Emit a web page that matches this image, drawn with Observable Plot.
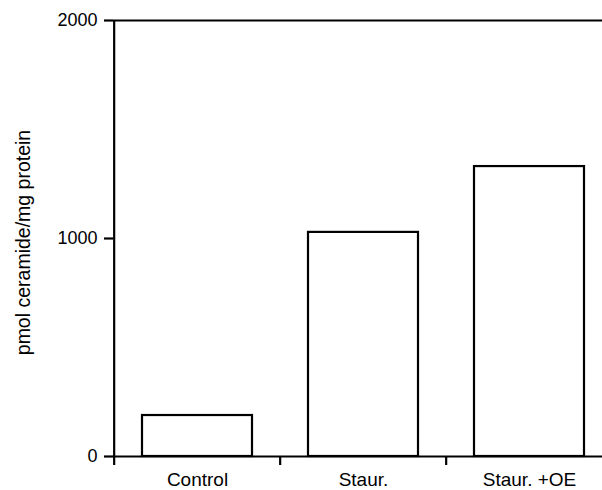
<!DOCTYPE html>
<html>
<head>
<meta charset="utf-8">
<script src="https://cdn.jsdelivr.net/npm/d3@7"></script>
<script src="https://cdn.jsdelivr.net/npm/@observablehq/plot@0.6"></script>
<style>
  html, body { margin: 0; padding: 0; background: #fff; }
  #chart svg { display: block; overflow: visible; }
</style>
</head>
<body>
<div id="chart"></div>
<script>
const categories = ["Control", "Staur.", "Staur. +OE"];
const values = [188, 1028, 1330];
const yTicks = [0, 1000, 2000];
const yLabel = "pmol ceramide/mg protein";

const data = categories.map((c, i) => ({category: c, value: values[i]}));

const width = 602, height = 490;
const marginLeft = 113, marginRight = 0, marginTop = 20, marginBottom = 34;
const xRange = [marginLeft, 613];
const step = (xRange[1] - xRange[0]) / categories.length;

const font = "'Liberation Sans', Arial, Helvetica, sans-serif";

const chart = Plot.plot({
  width, height, marginLeft, marginRight, marginTop, marginBottom,
  style: {fontFamily: font, fontSize: "18px", color: "#000", background: "#fff"},
  x: {domain: categories, range: xRange, padding: 0, axis: null},
  y: {domain: [0, 2000], axis: null},
  marks: [
    Plot.barY(data, {x: "category", y: "value", fill: "#fff", stroke: "#000", strokeWidth: 2.2, insetLeft: 28, insetRight: 28}),
    Plot.ruleY([0, 2000], {stroke: "#000", strokeWidth: 2.2}),
    Plot.ruleX(categories.slice(0, 1), {x: d => d, y1: 2000, y2: 0, insetBottom: -9, dx: -step / 2, stroke: "#000", strokeWidth: 2.2}),
    Plot.ruleX(categories.slice(1), {x: d => d, y1: 0, y2: 0, insetBottom: -9, dx: -step / 2, stroke: "#000", strokeWidth: 2.2}),
    Plot.axisY({ticks: yTicks, tickFormat: d => String(d), tickSize: 9, tickPadding: 7, strokeWidth: 2.2, label: null, fontSize: 18}),
    Plot.axisX({tickSize: 0, tickPadding: 16, label: null, fontSize: 19}),
    Plot.text([yLabel], {frameAnchor: "left", textAnchor: "middle", rotate: -90, dx: -90, dy: 4, fontSize: 19.5, fill: "#000"})
  ]
});

document.getElementById("chart").appendChild(chart);
</script>
</body>
</html>
